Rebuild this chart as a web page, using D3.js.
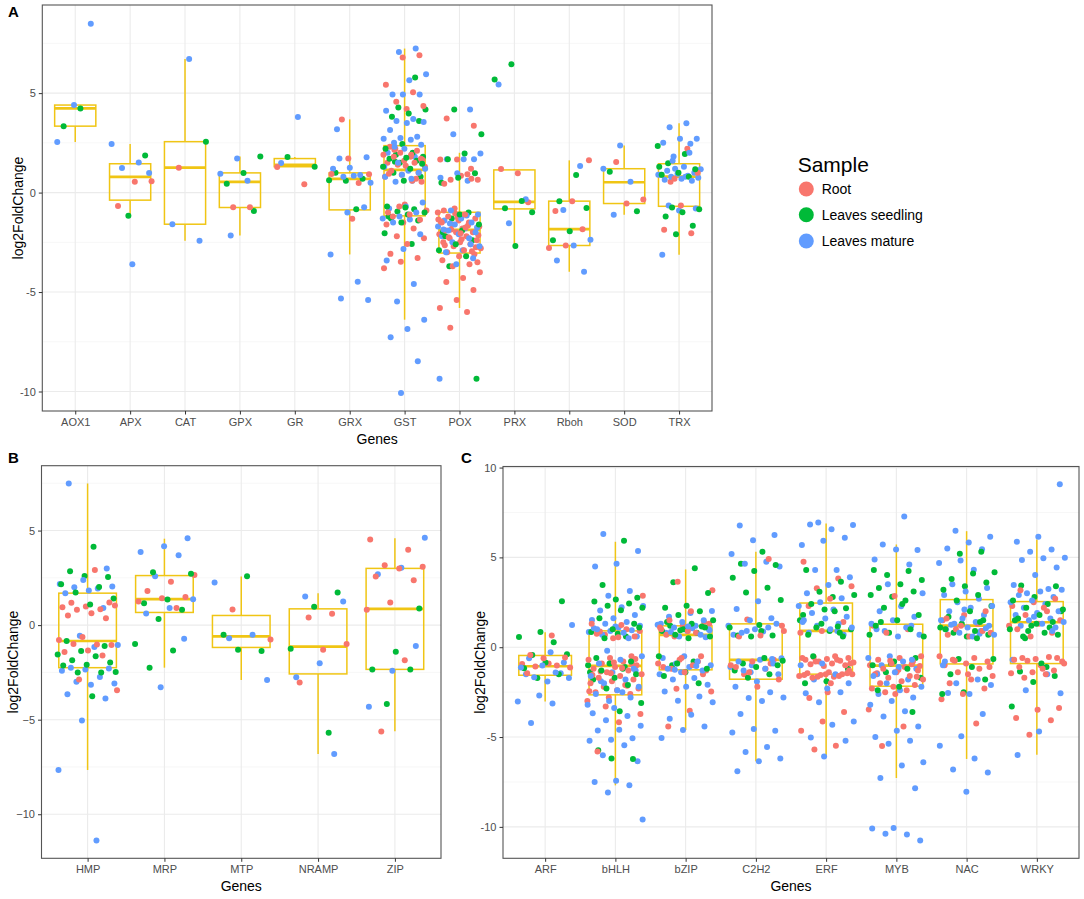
<!DOCTYPE html>
<html>
<head>
<meta charset="utf-8" />
<script src="https://d3js.org/d3.v7.min.js"></script>
<style>
  body { margin: 0; background: #fff; }
  text { font-family: "Liberation Sans", Arial, Helvetica, sans-serif; }
</style>
</head>
<body>
<div id="chart"></div>
<script>
// sample groups and their colours
const samples = ["Root", "Leaves seedling", "Leaves mature"];
const sampleColors = ["#F8766D", "#00BA38", "#619CFF"];
const boxColor = "#F0C514";

// ---- panel A ----
const genesA = ["AOX1", "APX", "CAT", "GPX", "GR", "GRX", "GST", "POX", "PRX", "Rboh", "SOD", "TRX"];
const rootA = [
  [],
  [0.57, 0.54, -0.67],
  [1.25],
  [-0.74, -0.74],
  [1.29, 0.42],
  [1.71, 0.94, 0.48, 3.68, 0.92, -1.32],
  [6.9, 6.79, 5.42, 5.05, 4.57, 4.35, 4.2, 2.3, 2.1, 2.0, 1.9, 1.8, 1.8, 1.7, 1.6, 1.5, 1.5, 1.4, 1.3, 1.2, 1.1, 1.0, 0.9, 0.8, 0.6, 2.2, 1.65, 1.35, 0.95, 0.7, -0.7, -0.9, -1.1, -1.2, -1.37, -1.5, -1.6, -1.8, -2.2, -2.3, -2.58, -3.08, -3.29, -3.48, -3.81, 1.9, 2.15, 0.55, -0.6, -1.0],
  [3.73, 3.36, 1.66, 1.66, 0.92, 0.64, 0.64, 0.84, 0.45, 0.7, -0.8, -1.0, -1.1, -1.2, -1.3, -1.4, -1.5, -1.5, -1.6, -1.7, -1.8, -1.9, -2.0, -2.0, -2.1, -2.2, -2.3, -2.4, -2.5, -2.5, -2.6, -2.7, -2.8, -2.9, -3.0, -3.1, -1.25, -1.45, -1.65, -1.85, -2.15, -2.35, -2.65, -2.95, -1.05, -1.35, -1.75, -2.25, -2.75, -3.2, -3.4, -3.6, -3.7, -4.0, -4.3, -4.5, -4.9, -5.4, -5.8, -6.0, -6.8, -3.5, -2.05, -0.9, 1.2],
  [0.97, 1.19, -0.48],
  [1.62, -0.43, -0.92, -1.84, -2.66, -2.79],
  [1.54, -0.35, -0.55],
  [2.2, 0.55, 1.0, -0.65, -1.87, -2.04, 0.7]
];
const seedlingA = [
  [4.23, 3.34],
  [1.87, -1.17],
  [2.56],
  [1.82, 0.99, 0.45, -0.92],
  [1.79, 1.30],
  [1.0, 0.70, 0.59, 0.62, -0.84],
  [5.79, 4.28, 4.18, 3.98, 3.81, 3.6, 2.44, 2.2, 2.0, 1.9, 1.8, 1.75, 1.7, 1.6, 1.5, 1.3, 1.2, 1.0, 0.8, 0.6, -0.70, -0.84, -0.95, -1.0, -1.1, -1.3, -1.4, -1.5, -2.04, -2.58, 1.55, 1.45, -0.75, -1.2],
  [4.18, 2.93, 1.97, 1.67, 0.97, 0.74, 0.5, -1.0, -1.3, -1.6, -1.9, -2.2, -2.4, -2.6, -2.9, -3.2, -3.7, -9.36, -1.1, -2.0],
  [6.45, 5.69, -0.42, -0.79, -0.99, -2.68],
  [0.89, -0.43, -0.77, -1.94, -2.4],
  [1.05, -0.94],
  [2.34, 1.94, 1.47, 1.17, 1.0, 0.9, 0.8, -0.75, -0.84, -0.99, -1.2, -1.67, -2.1, 1.3]
];
const matureA = [
  [8.49, 4.40, 2.54],
  [2.44, 1.51, 1.24, 0.99, -3.6],
  [6.71, -1.59, -2.42],
  [1.71, 0.95, 0.60, -2.16],
  [3.8, 1.49],
  [1.71, 1.77, 1.25, 1.2, 0.89, 0.80, 0.5, 0.85, 3.19, -0.74, -1.0, -3.11, -4.48, -5.32, -5.4],
  [7.24, 7.07, 5.95, 5.65, 4.93, 4.93, 4.93, 4.11, 3.7, 3.6, 3.55, 3.5, 3.14, 2.81, 2.75, 2.7, 2.65, 2.5, 2.4, 2.2, 2.0, 1.8, 1.5, 1.2, 1.1, 1.05, 1.0, 0.9, 0.8, 0.6, 0.55, -0.5, -0.7, -0.8, -1.0, -1.2, -1.3, -1.35, -1.5, -2.1, -2.84, -3.41, -4.6, -5.48, -6.39, -6.86, -7.27, -8.48, -10.07, 1.3, 0.7, 2.3],
  [4.18, 2.93, 1.97, 1.67, 1.67, 1.67, 0.97, 0.74, 0.6, -0.9, -1.1, -1.3, -1.4, -1.5, -1.6, -1.7, -1.8, -1.9, -2.0, -2.1, -2.2, -2.3, -2.5, -2.7, -2.9, -3.0, -3.3, -3.6, -9.36, -1.15, -1.55, -1.75, -2.05, -1.85, -2.6],
  [5.43, -0.33, -1.54],
  [1.34, -0.87, -2.37, -2.66, -3.41, -3.98],
  [2.37, 1.2, 0.54, -1.12],
  [3.49, 3.29, 2.71, 2.71, 2.5, 2.45, 1.81, 1.17, 1.3, 1.1, 1.0, 0.95, 0.9, 0.85, 0.8, 0.75, 0.7, 0.65, 0.6, 1.2, 0.9, 0.8, -0.65, -0.8, -0.9, -3.13, 2.0, 1.6]
];
// box statistics: [lower whisker, q1, median, q3, upper whisker]
const boxA = [
  [2.54, 3.34, 4.23, 4.40, 4.40],
  [-1.17, -0.38, 0.79, 1.45, 2.44],
  [-2.42, -1.59, 1.25, 2.56, 6.71],
  [-2.16, -0.75, 0.54, 0.99, 1.82],
  [1.30, 1.30, 1.40, 1.71, 1.79],
  [-3.11, -0.87, 0.69, 0.99, 3.68],
  [-6.39, -1.17, 1.14, 2.36, 7.24],
  [-5.8, -3.04, -1.87, -0.99, 2.0],
  [-2.68, -0.82, -0.47, 1.14, 1.19],
  [-3.98, -2.66, -1.84, -0.43, 1.62],
  [-1.12, -0.55, 0.52, 1.2, 2.37],
  [-3.13, -0.69, 0.80, 1.45, 3.49]
];

// ---- panel B ----
const genesB = ["HMP", "MRP", "MTP", "NRAMP", "ZIP"];
const rootB = [
  [2.92, 1.18, 1.2, 0.98, 0.95, 0.84, 0.81, 1.04, 0.63, 0.51, 0.37, -0.63, -0.79, -1.02, -1.0, -1.05, -1.34, -1.42, -1.6, -2.88, -3.44],
  [2.65, 2.3, 1.81, 1.49, 1.42, 1.25, 0.91],
  [0.83, -0.76],
  [0.6, 0.4, -1.0, -1.3, -3.04],
  [4.53, 3.99, 3.16, 3.09, 3.0, 2.57, 2.37, 1.2, 0.81, -1.86, -5.62]
];
const seedlingB = [
  [4.15, 2.85, 2.55, 2.6, 2.16, 2.02, 1.72, 1.41, 1.09, -0.84, -1.11, -1.37, -1.56, -1.65, -1.86, -1.97, -2.09, -2.14, -2.5, -2.5, -2.48, -3.76],
  [2.79, 2.72, 1.35, 1.16, 0.81, 0.33, -1.0, -1.34, -2.25],
  [2.58, -0.51, -1.37, -1.3],
  [1.72, 0.97, -1.25, -5.69],
  [0.88, -1.41, -2.34, -2.35, -4.17]
];
const matureB = [
  [7.49, 3.0, 2.39, 2.18, 1.93, 2.0, 2.04, 1.83, 1.69, 0.9, -0.56, -1.05, -1.16, -2.25, -2.30, -2.35, -2.41, -2.74, -3.0, -3.09, -3.15, -3.66, -3.88, -5.04, -7.66, -11.39],
  [4.59, 4.17, 3.87, 3.69, 2.58, 1.37, 0.9, 0.62, -0.72, -3.29],
  [2.25, -0.51, -0.69, -2.9],
  [1.51, 1.25, -2.02, -2.76, -6.82],
  [4.62, 3.04, 2.69, -1.11, -2.41, -4.31]
];
const boxB = [
  [-7.66, -2.25, -0.84, 1.69, 7.49],
  [-2.25, 0.67, 1.37, 2.62, 4.57],
  [-2.9, -1.18, -0.6, 0.51, 2.57],
  [-6.82, -2.58, -1.14, 0.86, 1.69],
  [-5.61, -2.34, 0.86, 3.0, 4.59]
];

// ---- panel C ----
const genesC = ["ARF", "bHLH", "bZIP", "C2H2", "ERF", "MYB", "NAC", "WRKY"];
const rootC = [
  [0.65, -0.43, -0.57, -0.61, -0.93, -1.02, -1.07, -1.13, -0.9, -1.45],
  [2.87, 1.24, 0.87, 0.6, 0.5, 1.3, 1.0, 0.7, 0.9, 0.55, 0.75, -0.5, -0.6, -0.7, -0.8, -0.9, -1.0, -1.1, -1.2, -1.3, -1.4, -1.5, -1.6, -1.7, -1.8, -1.9, -2.0, -2.1, -2.2, -2.3, -2.4, -2.5, -2.6, -2.8, -3.0, -1.15, -1.35, -0.65, -0.85, -1.55, -2.15, -3.3, -3.72, -4.17, -5.8, -0.95, -1.45, -2.45],
  [3.65, 3.17, 2.0, 1.5, 1.4, 1.2, 1.0, 0.8, 0.6, 1.3, 0.9, 0.7, -0.5, -0.7, -0.9, -1.0, -1.2, -1.3, -1.4, -1.1, -0.8, -2.31, -2.46, -3.54, -4.41, -1.5, -0.6, 1.1],
  [4.91, 1.54, 1.2, 0.65, 0.6, -0.7, -0.8, -1.0, -1.2, -1.5, -1.8, -2.2, -1.1, -0.9, -1.4, 0.9],
  [4.76, 3.83, 3.28, 3.4, 2.7, 2.3, 1.4, 0.9, 0.8, -0.5, -0.55, -0.6, -0.65, -0.7, -0.75, -0.8, -0.85, -0.9, -0.95, -1.0, -1.05, -0.6, -0.7, -0.8, -0.9, -1.4, -1.45, -1.5, -1.55, -1.6, -1.65, -1.7, -1.45, -1.5, -1.55, -1.6, -1.65, -1.5, -2.0, -2.83, -3.6, -4.13, -4.65, -5.48, -5.7, -1.3, -2.5],
  [2.85, 1.2, 1.0, 0.8, -0.5, -0.6, -0.7, -0.8, -0.9, -1.0, -1.1, -1.2, -1.3, -1.4, -1.5, -1.6, -1.7, -1.8, -1.9, -2.0, -2.1, -2.2, -2.3, -2.4, -2.5, -1.05, -1.25, -1.45, -0.95, -0.75, -3.47, -4.41, -5.5, -1.65, -2.6],
  [2.0, 1.8, 1.5, 1.3, 1.0, 0.8, 0.6, 0.7, 0.9, 1.2, -0.5, -0.6, -0.7, -0.8, -0.9, -1.0, -1.2, -1.4, -1.6, -1.8, -2.0, -2.3, -2.6, -2.9, -4.24, -0.75, -1.1, -1.5, 1.6],
  [3.17, 2.7, 2.5, 2.3, 2.0, 1.8, 1.5, 1.3, 1.0, 0.8, 0.6, 1.2, 2.2, -0.6, -0.6, -0.65, -0.7, -0.55, -0.75, -0.8, -1.0, -1.1, -1.3, -1.4, -1.45, -1.5, -1.7, -3.39, -3.48, -3.94, -4.06, -4.87, -0.9, -1.2]
];
const seedlingC = [
  [2.56, 0.85, 0.57, 0.28, -0.43, -0.39, -0.85, -1.17, -1.5, -1.72],
  [5.93, 3.46, 2.76, 2.65, 2.54, 2.43, 2.31, 2.2, 2.06, 1.61, 1.3, 1.0, 0.85, 0.6, 0.5, 1.1, 0.75, -0.6, -0.8, -0.9, -1.0, -1.2, -1.3, -1.5, -1.7, -1.8, -2.1, -2.3, -3.1, -3.57, -5.74, -6.22, -6.19, -1.4, -1.1],
  [4.39, 3.61, 3.02, 2.31, 2.2, 2.0, 1.8, 1.5, 1.3, 1.2, 1.1, 1.0, 0.9, 0.8, 0.7, 0.6, 0.5, 1.4, 1.15, 0.95, -0.5, -0.8, -1.0, -1.2, -1.4, -1.6, -2.0, -0.9],
  [5.31, 4.65, 4.58, 4.24, 3.87, 3.31, 3.04, 2.63, 1.24, 0.65, 0.65, 0.6, 1.1, -0.6, -0.9, -1.0, -1.1, -1.3, -1.5, -1.7, -0.75, 0.9],
  [4.3, 3.65, 3.09, 2.9, 2.8, 2.4, 2.17, 2.1, 1.8, 1.15, 1.1, 1.0, 0.9, 0.7, 0.6, 1.3, 1.5, 2.0, -0.5, -1.2, -1.9, -2.0, 0.8],
  [4.3, 4.24, 4.02, 3.74, 3.5, 3.3, 3.1, 2.81, 2.9, 2.6, 2.2, 1.8, 1.5, 1.2, 1.0, 0.8, 0.6, 2.4, 1.4, -0.6, -0.8, -1.0, -1.2, -1.4, -1.7, -2.2, -2.4, -3.6, -0.9, 0.7],
  [5.31, 5.2, 4.17, 4.1, 3.8, 3.6, 3.4, 3.2, 2.9, 2.6, 2.3, 2.0, 1.7, 1.5, 1.3, 1.1, 0.9, 0.8, 0.7, 0.6, 1.0, 1.4, -0.65, -0.65, -1.1, -1.5, -1.8, -2.5, -2.6, 0.5],
  [3.43, 3.4, 2.8, 2.6, 2.4, 2.2, 2.0, 1.8, 1.6, 1.4, 1.2, 1.0, 0.8, 0.6, 0.7, 1.3, 1.5, 1.1, 0.9, 2.1, -0.9, -1.35, -1.6, -1.94, -3.3, -1.1, 0.5]
];
const matureC = [
  [1.24, -0.28, -0.61, -0.85, -1.02, -1.13, -1.41, -1.67, -1.72, -1.91, -1.5, -1.45, -2.69, -3.02, -3.13, -4.22],
  [6.3, 5.35, 4.65, 4.5, 3.13, 2.87, 2.3, 2.22, 2.04, 1.8, 1.61, 1.52, 1.4, 1.3, 1.2, 1.1, 1.0, 0.95, 0.9, 0.85, 0.8, 0.7, 0.6, 1.15, 1.05, 0.5, -0.2, -0.5, -0.7, -0.9, -1.2, -1.4, -1.6, -1.8, -2.0, -2.2, -2.4, -2.6, -2.8, -3.0, -3.2, -2.5, -1.9, -1.3, -3.39, -3.67, -3.83, -4.06, -4.37, -4.59, -4.63, -5.07, -5.15, -5.2, -5.46, -6.02, -6.35, -7.43, -7.5, -7.69, -8.09, -9.59],
  [2.02, 1.9, 1.7, 1.5, 1.4, 1.3, 1.2, 1.1, 1.0, 0.9, 0.8, 0.7, 0.6, 1.25, 1.05, 0.85, 0.55, -0.5, -0.6, -0.8, -0.9, -1.0, -1.1, -1.2, -1.3, -1.4, -1.5, -1.72, -1.8, -2.09, -2.2, -2.46, -2.74, -2.98, -3.07, -3.76, -3.98, -4.41, -4.61, -5.06, -1.05, -1.25, 0.95, 1.15],
  [6.78, 6.24, 5.96, 5.19, 4.76, 4.65, 4.5, 2.56, 2.13, 1.61, 1.5, 1.2, 0.87, 0.8, 1.3, 1.0, 0.7, 1.1, 0.9, -0.61, -0.7, -0.8, -0.9, -1.0, -1.1, -1.2, -1.3, -1.5, -1.91, -2.2, -2.5, -2.83, -2.8, -3.0, -3.72, -4.65, -4.55, -4.75, -5.56, -5.83, -6.2, -6.35, -6.91, -0.65, -1.4],
  [6.94, 6.8, 6.57, 6.83, 6.09, 5.93, 5.69, 4.3, 4.3, 3.9, 3.46, 3.0, 2.72, 2.5, 2.3, 2.1, 1.9, 1.7, 1.6, 1.5, 1.3, 1.2, 1.1, 1.0, 0.8, 0.7, -0.9, -1.0, -1.5, -1.8, -2.0, -2.3, -2.56, -2.5, -3.06, -4.13, -4.31, -5.02, -5.2, -6.09, 1.4, 0.9],
  [7.28, 5.72, 5.41, 5.44, 4.89, 4.6, 3.5, 3.0, 2.28, 2.0, 1.7, 1.5, 1.3, 1.1, 0.9, 0.7, 0.6, 1.0, 1.2, -0.5, -0.6, -0.8, -1.0, -1.2, -1.4, -1.6, -1.8, -2.0, -2.2, -2.4, -2.6, -2.8, -3.0, -3.2, -3.57, -3.85, -4.41, -4.65, -5.0, -5.2, -5.37, -6.41, -6.59, -7.28, -7.85, -10.06, -10.09, -10.43, -10.39, -10.76, -1.1, -1.5, -0.7],
  [6.48, 6.15, 5.83, 5.5, 5.45, 4.83, 4.69, 4.31, 3.5, 3.3, 3.1, 2.9, 2.7, 2.5, 2.3, 2.2, 2.0, 1.8, 1.6, 1.5, 1.4, 1.3, 1.2, 1.1, 1.0, 0.9, 0.8, 0.7, 0.6, 1.25, 1.05, 2.1, -1.0, -1.8, -2.0, -2.1, -2.6, -2.55, -3.72, -4.96, -5.48, -6.19, -6.81, -6.98, -8.04, -0.8, 0.75],
  [9.07, 6.15, 5.87, 5.44, 5.31, 4.98, 4.95, 4.85, 4.44, 4.02, 3.46, 3.24, 3.0, 3.2, 3.1, 2.9, 2.8, 2.6, 2.5, 2.4, 2.2, 2.0, 1.9, 1.8, 1.6, 1.5, 1.4, 1.3, 1.2, 1.1, 1.7, -0.7, -1.5, -2.4, -2.56, -4.69, -6.0, 0.9]
];
const boxC = [
  [-3.02, -1.56, -1.06, -0.46, 0.83],
  [-7.69, -2.65, -1.04, 0.91, 5.87],
  [-4.61, -1.26, 0.69, 1.19, 4.33],
  [-6.35, -1.78, -0.70, 1.30, 5.31],
  [-6.07, -1.50, 0.91, 2.46, 6.89],
  [-7.28, -2.17, -1.02, 1.28, 5.72],
  [-6.22, -0.93, 1.20, 2.65, 6.46],
  [-5.98, -0.91, 1.39, 2.54, 6.00]
];

const svg = d3.select("#chart").append("svg").attr("width", 1084).attr("height", 899);

function panel(o) {
  const g = svg.append("g");
  const x = d3.scalePoint().domain(o.genes).range([o.left, o.right]).padding(0.6);
  const y = d3.scaleLinear().domain(o.domain).range([o.bottom, o.top]);
  const step = x.step();

  // grid
  g.selectAll(".minor").data(o.minor).enter().append("line")
    .attr("x1", o.left).attr("x2", o.right)
    .attr("y1", (d) => y(d)).attr("y2", (d) => y(d))
    .style("stroke", "#F2F2F2").style("stroke-width", 0.6);
  g.selectAll(".major").data(o.ticks).enter().append("line")
    .attr("x1", o.left).attr("x2", o.right)
    .attr("y1", (d) => y(d)).attr("y2", (d) => y(d))
    .style("stroke", "#EBEBEB").style("stroke-width", 1.1);
  g.selectAll(".vgrid").data(o.genes).enter().append("line")
    .attr("x1", (d) => x(d)).attr("x2", (d) => x(d))
    .attr("y1", o.top).attr("y2", o.bottom)
    .style("stroke", "#EBEBEB").style("stroke-width", 1.1);

  // boxes
  const bw = step * 0.75;
  const box = g.selectAll(".box").data(o.boxes).enter().append("g")
    .style("stroke", boxColor).style("fill", "none");
  box.append("line").attr("class", "whisker")
    .attr("x1", (d, i) => x(o.genes[i])).attr("x2", (d, i) => x(o.genes[i]))
    .attr("y1", (d) => y(d[0])).attr("y2", (d) => y(d[1]));
  box.append("line").attr("class", "whisker")
    .attr("x1", (d, i) => x(o.genes[i])).attr("x2", (d, i) => x(o.genes[i]))
    .attr("y1", (d) => y(d[3])).attr("y2", (d) => y(d[4]));
  box.append("rect")
    .attr("x", (d, i) => x(o.genes[i]) - bw / 2).attr("width", bw)
    .attr("y", (d) => y(d[3])).attr("height", (d) => y(d[1]) - y(d[3]));
  box.append("line").attr("class", "median")
    .attr("x1", (d, i) => x(o.genes[i]) - bw / 2).attr("x2", (d, i) => x(o.genes[i]) + bw / 2)
    .attr("y1", (d) => y(d[2])).attr("y2", (d) => y(d[2]));
  box.selectAll(".whisker, rect").style("stroke-width", 1.5);
  box.selectAll(".median").style("stroke-width", 2.7);

  // jittered points
  const pts = [];
  o.genes.forEach((gene, gi) => {
    const all = [];
    [o.root[gi], o.seedling[gi], o.mature[gi]].forEach((vals, s) => {
      vals.forEach((v) => all.push({ gene: gene, s: s, v: v }));
    });
    all.forEach((p, k) => {
      p.j = (((k + 1) * 0.6180339 + gi * 0.37) % 1) - 0.5;
      p.order = (k * 0.7548777 + gi * 0.13) % 1;
      pts.push(p);
    });
  });
  pts.sort((a, b) => a.order - b.order);
  g.selectAll(".pt").data(pts).enter().append("circle")
    .attr("cx", (d) => x(d.gene) + d.j * 0.8 * step)
    .attr("cy", (d) => y(d.v))
    .attr("r", 3)
    .style("fill", (d) => sampleColors[d.s]);

  // border
  g.append("rect")
    .attr("x", o.left).attr("y", o.top)
    .attr("width", o.right - o.left).attr("height", o.bottom - o.top)
    .style("fill", "none").style("stroke", "#555").style("stroke-width", 1.1);

  // axes
  const ax = g.append("g").attr("transform", `translate(0,${o.bottom})`)
    .call(d3.axisBottom(x).tickSize(3.5).tickPadding(3.5));
  const ay = g.append("g").attr("transform", `translate(${o.left},0)`)
    .call(d3.axisLeft(y).tickValues(o.ticks).tickSize(3.5).tickPadding(3).tickFormat(o.fmt));
  [ax, ay].forEach((a) => {
    a.select(".domain").remove();
    a.selectAll(".tick line").style("stroke", "#333");
    a.selectAll("text").style("font-size", "11px").style("fill", "#4D4D4D")
      .style("font-family", '"Liberation Sans", Arial, sans-serif');
  });

  g.append("text")
    .attr("x", (o.left + o.right) / 2).attr("y", o.bottom + 33)
    .attr("text-anchor", "middle").style("font-size", "14px").text("Genes");
  g.append("text")
    .attr("transform", `translate(${o.ytitle},${(o.top + o.bottom) / 2}) rotate(-90)`)
    .attr("text-anchor", "middle").style("font-size", "14px").text("log2FoldChange");
  g.append("text")
    .attr("x", o.letter[0]).attr("y", o.letter[1])
    .style("font-size", "15px").style("font-weight", "bold").text(o.label);
}

const hyphen = (d) => String(d);
const minus = (d) => String(d).replace("-", "\u2212");

panel({
  genes: genesA, root: rootA, seedling: seedlingA, mature: matureA, boxes: boxA,
  left: 42.3, right: 712, top: 5, bottom: 411, domain: [-10.98, 9.43],
  ticks: [-10, -5, 0, 5], minor: [-7.5, -2.5, 2.5, 7.5], fmt: hyphen,
  ytitle: 23, letter: [8, 16.5], label: "A"
});
panel({
  genes: genesB, root: rootB, seedling: seedlingB, mature: matureB, boxes: boxB,
  left: 41.5, right: 441, top: 465.7, bottom: 858.3, domain: [-12.33, 8.43],
  ticks: [-10, -5, 0, 5], minor: [-7.5, -2.5, 2.5, 7.5], fmt: minus,
  ytitle: 17.5, letter: [8, 463], label: "B"
});
panel({
  genes: genesC, root: rootC, seedling: seedlingC, mature: matureC, boxes: boxC,
  left: 503, right: 1079, top: 466.5, bottom: 858.3, domain: [-11.75, 10.06],
  ticks: [-10, -5, 0, 5, 10], minor: [-7.5, -2.5, 2.5, 7.5], fmt: hyphen,
  ytitle: 485, letter: [461, 463], label: "C"
});

// legend
const legend = svg.append("g");
legend.append("text").attr("x", 797.7).attr("y", 172).style("font-size", "21px").text("Sample");
const keyY = [189, 214.7, 241];
samples.forEach((s, i) => {
  legend.append("circle").attr("cx", 806.3).attr("cy", keyY[i]).attr("r", 7.5).style("fill", sampleColors[i]);
  legend.append("text").attr("x", 821.7).attr("y", keyY[i] + 5).style("font-size", "14px").text(s);
});
</script>
</body>
</html>
